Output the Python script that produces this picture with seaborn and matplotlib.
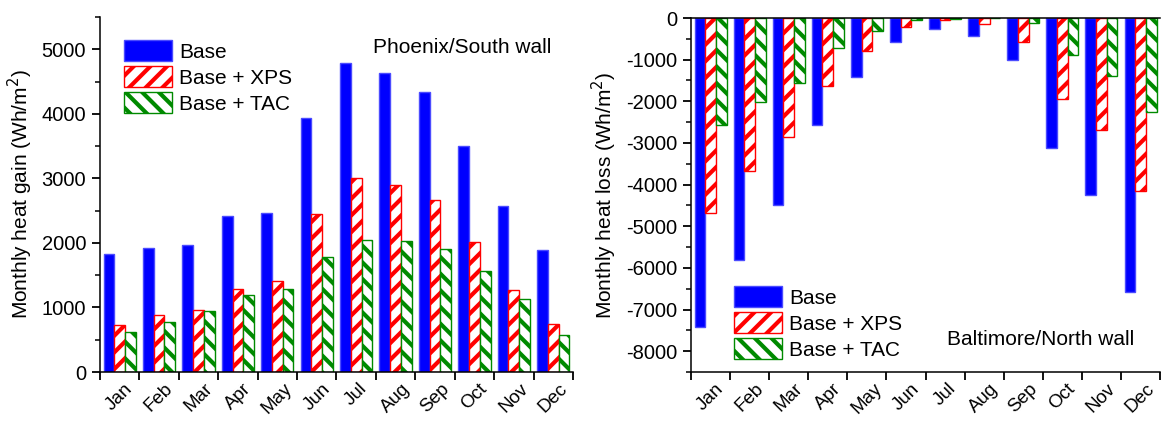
import numpy as np
import pandas as pd
import matplotlib
matplotlib.use("Agg")
import matplotlib.pyplot as plt
from matplotlib.ticker import MultipleLocator, FixedLocator, NullFormatter
from matplotlib.patches import Patch
import seaborn as sns

# ---- data -----------------------------------------------------------------
months = ["Jan", "Feb", "Mar", "Apr", "May", "Jun",
          "Jul", "Aug", "Sep", "Oct", "Nov", "Dec"]
series = ["Base", "Base + XPS", "Base + TAC"]

# Phoenix / South wall: monthly heat gain (Wh/m2)
gain_base = [1835, 1925, 1965, 2410, 2470, 3930, 4790, 4640, 4340, 3505, 2565, 1890]
gain_xps = [730, 890, 955, 1290, 1415, 2455, 3005, 2905, 2670, 2010, 1265, 745]
gain_tac = [625, 770, 940, 1200, 1290, 1785, 2050, 2025, 1905, 1560, 1125, 570]

# Baltimore / North wall: monthly heat loss (Wh/m2)
loss_base = [-7430, -5800, -4480, -2575, -1415, -575, -270, -430, -1015, -3125, -4240, -6580]
loss_xps = [-4685, -3670, -2855, -1640, -800, -215, -55, -135, -575, -1945, -2690, -4165]
loss_tac = [-2560, -2005, -1565, -730, -320, -55, -12, -10, -120, -895, -1400, -2260]

# ---- style ----------------------------------------------------------------
sns.set_style("ticks")
plt.rcParams["font.family"] = ["Liberation Sans", "DejaVu Sans"]
plt.rcParams["axes.unicode_minus"] = False
plt.rcParams["hatch.linewidth"] = 3.0
plt.rcParams["axes.linewidth"] = 1.1
for key in ("text.color", "axes.labelcolor", "xtick.color", "ytick.color",
            "axes.edgecolor"):
    plt.rcParams[key] = "black"

face = {"Base": "#0000ff", "Base + XPS": "white", "Base + TAC": "white"}
edge = {"Base": "#4b4bff", "Base + XPS": "#ff3a3a", "Base + TAC": "#2aa22a"}
hcol = {"Base": "#0000ff", "Base + XPS": "#ff0000", "Base + TAC": "#008a00"}
hatch = {"Base": None, "Base + XPS": "//", "Base + TAC": "\\\\"}

FS = 15


def long_frame(a, b, c):
    return pd.DataFrame({
        "month": months * 3,
        "series": np.repeat(series, len(months)),
        "value": list(a) + list(b) + list(c),
    })


def paint(patch, name):
    patch.set_facecolor(face[name])
    patch.set_edgecolor(edge[name])
    patch.set_linewidth(1.0)
    if hatch[name]:
        patch.set_hatch(hatch[name])
        if hasattr(patch, "set_hatchcolor"):
            patch.set_hatchcolor(hcol[name])
        else:
            patch.set_edgecolor(hcol[name])


def style_bars(ax):
    for cont, name in zip(ax.containers, series):
        for bar in cont:
            paint(bar, name)


def legend_handles():
    handles = []
    for n in series:
        p = Patch(label=n)
        paint(p, n)
        handles.append(p)
    return handles


def month_axis(ax):
    n = len(months)
    ax.set_xlim(-0.5, n - 0.5)
    ax.xaxis.set_major_locator(FixedLocator(np.arange(n + 1) - 0.5))
    ax.xaxis.set_major_formatter(NullFormatter())
    ax.set_xticks(np.arange(n), months, minor=True)
    ax.tick_params(axis="x", which="major", direction="out", length=6, width=1.3)
    ax.tick_params(axis="x", which="minor", length=0, pad=6, labelsize=13.5)
    for lab in ax.get_xticklabels(minor=True):
        lab.set_rotation(45)
        lab.set_ha("center")
        lab.set_va("top")
    ax.set_xlabel("")


def value_axis(ax):
    ax.yaxis.set_major_locator(MultipleLocator(1000))
    ax.yaxis.set_minor_locator(MultipleLocator(500))
    ax.tick_params(axis="y", which="major", direction="out", length=6, width=1.3,
                   labelsize=14.5, pad=4)
    ax.tick_params(axis="y", which="minor", direction="out", length=3.5, width=1.1)


fig = plt.figure(figsize=(11.61, 4.24), dpi=100)
ax1 = fig.add_axes([0.0861, 0.1226, 0.4074, 0.8373])
ax2 = fig.add_axes([0.5952, 0.1226, 0.4040, 0.8349])

leg_kw = dict(frameon=False, fontsize=FS, handlelength=2.3, handleheight=1.15,
              handletextpad=0.35, labelspacing=0.22, borderaxespad=0.2)

# ---- left panel: heat gain ------------------------------------------------
sns.barplot(data=long_frame(gain_base, gain_xps, gain_tac), x="month", y="value",
            hue="series", order=months, hue_order=series, width=0.82,
            dodge=True, legend=False, ax=ax1, errorbar=None)
style_bars(ax1)
month_axis(ax1)
value_axis(ax1)
ax1.set_ylim(0, 5500)
ax1.set_ylabel("Monthly heat gain (Wh/m$^2$)", fontsize=FS, labelpad=5)
sns.despine(ax=ax1)
ax1.legend(handles=legend_handles(), loc="upper left", bbox_to_anchor=(0.025, 0.97),
           **leg_kw)
ax1.text(0.765, 0.915, "Phoenix/South wall", transform=ax1.transAxes,
         ha="center", va="center", fontsize=FS)

# ---- right panel: heat loss -----------------------------------------------
sns.barplot(data=long_frame(loss_base, loss_xps, loss_tac), x="month", y="value",
            hue="series", order=months, hue_order=series, width=0.82,
            dodge=True, legend=False, ax=ax2, errorbar=None)
style_bars(ax2)
month_axis(ax2)
value_axis(ax2)
ax2.set_ylim(-8500, 0)
ax2.set_ylabel("Monthly heat loss (Wh/m$^2$)", fontsize=FS, labelpad=5)
ax2.spines["right"].set_visible(False)
ax2.legend(handles=legend_handles(), loc="lower left", bbox_to_anchor=(0.065, 0.0),
           **leg_kw)
ax2.text(0.745, 0.093, "Baltimore/North wall", transform=ax2.transAxes,
         ha="center", va="center", fontsize=FS)

fig.savefig("out.png", dpi=100)
